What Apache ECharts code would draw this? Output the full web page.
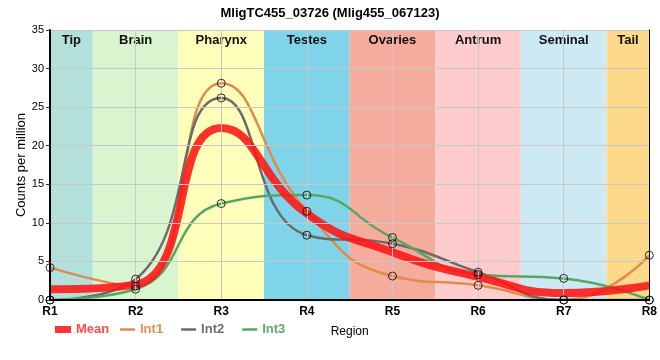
<!DOCTYPE html>
<html><head><meta charset="utf-8">
<script src="https://cdn.jsdelivr.net/npm/echarts@6/dist/echarts.min.js"></script>
<style>html,body{margin:0;padding:0;background:#fff}#c{width:660px;height:360px}</style>
</head><body><div id="c"></div>
<script>
const categories = ['R1','R2','R3','R4','R5','R6','R7','R8'];
const meanVals = [1.4, 2.0, 22.3, 11.2, 6.2, 3.0, 0.9, 1.9];
const int1 = [4.2, 1.8, 28.1, 11.5, 3.1, 1.9, 0, 5.8];
const int2 = [0, 2.7, 26.2, 8.4, 7.3, 3.6, 0, 0];
const int3 = [0, 1.4, 12.5, 13.6, 8.1, 3.3, 2.8, 0];
const regionNames = ['Tip','Brain','Pharynx','Testes','Ovaries','Antrum','Seminal','Tail'];
const regionStart = [1, 1.5, 2.5, 3.5, 4.5, 5.5, 6.5, 7.5];
const regionEnd = [1.5, 2.5, 3.5, 4.5, 5.5, 6.5, 7.5, 8];
const regionColors = ['#b4e0dc','#d8f5d0','#ffffbb','#80d4ea','#f5ac9d','#fecccc','#cdeaf4','#fdd98b'];
const yTicks = {min: 0, max: 35, interval: 5};

const FONT = 'Liberation Sans, Arial, sans-serif';
const colors = {Mean: 'rgba(255,20,20,0.88)', Int1: '#df8c4c', Int2: '#6b6b6b', Int3: '#5aa565'};
const textColors = {Mean: '#ff4a4a', Int1: '#e3914f', Int2: '#6e6e6e', Int3: '#62a86e'};

const xy = arr => arr.map((v, i) => [i + 1, v]);

const markData = regionNames.map((n, i) => [
  {name: n, xAxis: regionStart[i], itemStyle: {color: regionColors[i]}},
  {xAxis: regionEnd[i]}
]);

const lineSeries = (name, vals, width, z) => ({
  name, type: 'line', data: xy(vals), smooth: 0.5, symbol: 'none', z,
  lineStyle: {color: colors[name], width}, itemStyle: {color: colors[name]},
  emphasis: {disabled: true}
});

const pts = [];
[int1, int2, int3].forEach(a => a.forEach((v, i) => pts.push([i + 1, v])));

const chart = echarts.init(document.getElementById('c'), null, {renderer: 'canvas'});
chart.setOption({
  animation: false,
  textStyle: {fontFamily: FONT},
  title: {text: 'MligTC455_03726 (Mlig455_067123)', left: 'center', top: 2,
    textStyle: {fontSize: 13, fontWeight: 'bold', color: '#000', fontFamily: FONT}},
  grid: {left: 50, right: 10, top: 30, bottom: 60},
  xAxis: [{
    type: 'value', min: 1, max: 8, interval: 1,
    name: 'Region', nameLocation: 'middle', nameGap: 26,
    nameTextStyle: {fontSize: 12, color: '#000', fontFamily: FONT},
    axisLine: {lineStyle: {color: '#000', width: 2}},
    axisTick: {show: false},
    axisLabel: {formatter: v => categories[v - 1] || '', fontWeight: 'bold', fontSize: 12, color: '#000', margin: 6, fontFamily: FONT},
    splitLine: {show: true, lineStyle: {color: '#c8c8c8', width: 1}}, z: 5
  }, {
    type: 'value', min: 1, max: 8, position: 'top',
    axisLine: {show: true, lineStyle: {color: '#000', width: 1}},
    axisTick: {show: false}, axisLabel: {show: false}, splitLine: {show: false}, z: 6
  }],
  yAxis: [{
    type: 'value', min: yTicks.min, max: yTicks.max, interval: yTicks.interval,
    name: 'Counts per million', nameLocation: 'middle', nameGap: 22, nameMoveOverlap: false,
    nameTextStyle: {fontSize: 13, color: '#000', fontFamily: FONT},
    axisLine: {show: true, lineStyle: {color: '#000', width: 2}},
    axisTick: {show: true, inside: false, length: 4, lineStyle: {color: '#333', width: 1}},
    axisLabel: {fontSize: 11, color: '#000', margin: 6, fontFamily: FONT},
    splitLine: {show: true, lineStyle: {color: '#c8c8c8', width: 1}}, z: 5
  }, {
    type: 'value', min: yTicks.min, max: yTicks.max, position: 'right',
    axisLine: {show: true, lineStyle: {color: '#000', width: 1}},
    axisTick: {show: false}, axisLabel: {show: false}, splitLine: {show: false}, z: 6
  }],
  legend: [{
    data: [{name: 'Mean', icon: 'rect', itemStyle: {color: 'rgba(255,30,30,0.9)'}, textStyle: {color: textColors.Mean}}],
    left: 55, top: 323, itemWidth: 16, itemHeight: 7, itemGap: 10, padding: 0,
    textStyle: {fontSize: 13, fontWeight: 'bold', fontFamily: FONT}, selectedMode: false
  }, {
    data: ['Int1', 'Int2', 'Int3'].map(n => ({name: n, icon: 'rect', itemStyle: {color: colors[n]}, textStyle: {color: textColors[n]}})),
    left: 120, top: 323, itemWidth: 15, itemHeight: 2.5, itemGap: 18, padding: 0,
    textStyle: {fontSize: 13, fontWeight: 'bold', fontFamily: FONT}, selectedMode: false
  }],
  series: [
    {type: 'line', data: [], markArea: {silent: true, data: markData,
      label: {show: true, position: 'insideTop', distance: 4, fontSize: 13, fontWeight: 'bold', color: '#111', fontFamily: FONT}}, z: 1},
    lineSeries('Int1', int1, 2.5, 3),
    lineSeries('Int2', int2, 2.5, 3),
    lineSeries('Int3', int3, 2.5, 3),
    lineSeries('Mean', meanVals, 8, 4),
    {type: 'scatter', name: 'points', data: pts, symbol: 'circle', symbolSize: 8, z: 7,
      itemStyle: {color: 'rgba(0,0,0,0)', borderColor: '#000', borderWidth: 1}, emphasis: {disabled: true}}
  ]
});
</script></body></html>
